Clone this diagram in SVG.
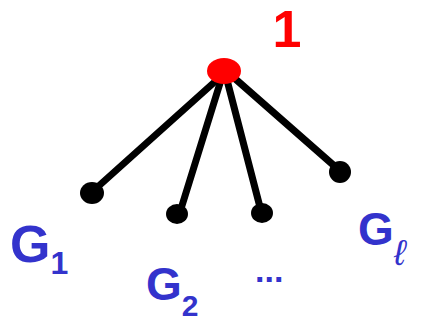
<svg xmlns="http://www.w3.org/2000/svg" width="429" height="323" viewBox="0 0 429 323">
<style>
.edge{stroke:#000;stroke-width:7;stroke-linecap:round;fill:none}
.leaf{fill:#000}
.lbl{fill:#3333cc;font-family:"Liberation Sans",Arial,sans-serif;font-weight:bold}
</style>
<rect width="429" height="323" fill="#fff"/>
<g id="connectors">
<line class="edge" x1="219" y1="78" x2="92" y2="192"/>
<line class="edge" x1="221" y1="80" x2="180" y2="212"/>
<line class="edge" x1="227" y1="80" x2="261" y2="211"/>
<line class="edge" x1="232" y1="76" x2="339" y2="170"/>
</g>
<g id="root">
<ellipse cx="224" cy="71" rx="17" ry="13" fill="#ff0000"/>
<text x="287" y="47" fill="#ff0000" font-family="Liberation Sans,Arial,sans-serif" font-weight="bold" font-size="52" text-anchor="middle">1</text>
</g>
<g id="G1">
<ellipse class="leaf" cx="92" cy="193" rx="12" ry="11"/>
<text class="lbl" x="10" y="262" font-size="52">G<tspan font-size="32" dy="12">1</tspan></text>
</g>
<g id="G2">
<ellipse class="leaf" cx="177" cy="214" rx="11" ry="10"/>
<text class="lbl" x="146" y="300" font-size="46">G<tspan font-size="30" dy="16">2</tspan></text>
</g>
<g id="dots">
<text class="lbl" x="255" y="282" font-size="34">...</text>
</g>
<g id="Gl">
<ellipse class="leaf" cx="262" cy="213" rx="11" ry="10"/>
<ellipse class="leaf" cx="340" cy="172" rx="11" ry="11"/>
<text class="lbl" x="358" y="245" font-size="46">G<tspan font-size="36" font-weight="normal" font-style="italic" dy="20">ℓ</tspan></text>
</g>
</svg>
